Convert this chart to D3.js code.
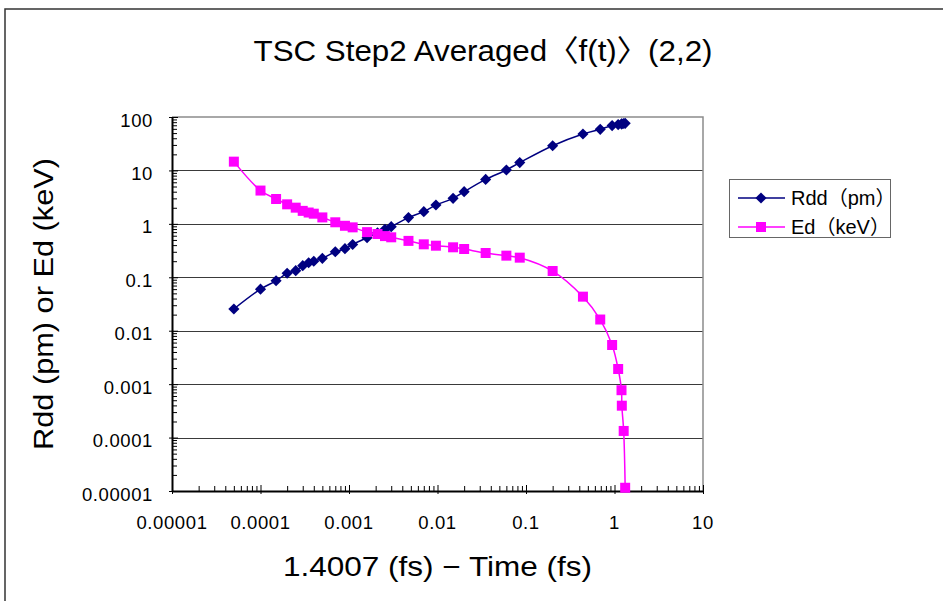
<!DOCTYPE html>
<html>
<head>
<meta charset="utf-8">
<script src="https://cdn.jsdelivr.net/npm/d3@7"></script>
<style>
  html, body { margin: 0; padding: 0; background: #fff; }
  svg { display: block; }
  text { font-family: "Liberation Sans", Arial, "Noto Sans CJK JP", sans-serif; fill: #000; }
</style>
</head>
<body>
<svg id="chart" width="943" height="601"></svg>
<script>
// ---- data ----
const chartTitle = "TSC Step2 Averaged〈f(t)〉(2,2)";
const xTitle = "1.4007 (fs) − Time (fs)";
const yTitle = "Rdd (pm) or Ed (keV)";
const seriesNames = ["Rdd（pm）", "Ed（keV）"];
const xTickLabels = ["0.00001", "0.0001", "0.001", "0.01", "0.1", "1", "10"];
const yTickLabels = ["0.00001", "0.0001", "0.001", "0.01", "0.1", "1", "10", "100"];

// 1.4007 (fs) - Time (fs)
const timeLeft = [5e-5, 1e-4, 1.5e-4, 2e-4, 2.5e-4, 3e-4, 3.5e-4, 4e-4, 5e-4, 7e-4, 9e-4,
  1.1e-3, 1.6e-3, 2.1e-3, 2.55e-3, 3.0e-3, 4.7e-3, 7.0e-3, 9.6e-3, 0.015, 0.02, 0.035,
  0.06, 0.085, 0.2, 0.44, 0.69, 0.94, 1.10, 1.20, 1.21, 1.27, 1.32];
// Rdd (pm)
const rdd = [0.0255, 0.060, 0.086, 0.119, 0.133, 0.165, 0.187, 0.20, 0.226, 0.30, 0.343,
  0.41, 0.55, 0.68, 0.79, 0.885, 1.31, 1.69, 2.25, 3.0, 4.0, 6.8,
  10.2, 14, 29, 48, 58.8, 69, 72, 74, 74.5, 75.5, 76];
// Ed (keV)
const ed = [14.6, 4.2, 2.92, 2.32, 2.01, 1.75, 1.63, 1.55, 1.32, 1.07, 0.92,
  0.86, 0.70, 0.645, 0.59, 0.56, 0.48, 0.414, 0.39, 0.364, 0.338, 0.285,
  0.254, 0.233, 0.131, 0.0434, 0.0162, 0.0054, 0.00192, 0.00077, 0.000395, 0.000133, 0.0000115];

// ---- layout ----
const svg = d3.select("#chart");
const plot = { left: 172, right: 703, top: 117, bottom: 491 };
const colors = { rdd: "#000080", ed: "#FF00FF" };

const x = d3.scaleLog().domain([1e-5, 10]).range([plot.left, plot.right]);
const y = d3.scaleLog().domain([1e-5, 100]).range([plot.bottom, plot.top]);

// outer chart border
svg.append("rect").attr("x", 5).attr("y", 9).attr("width", 960).attr("height", 620)
  .attr("fill", "none").attr("stroke", "#333").attr("stroke-width", 1.5);

// title
svg.append("text").attr("x", 483).attr("y", 61).attr("text-anchor", "middle")
  .attr("font-size", 30).attr("textLength", 459).attr("lengthAdjust", "spacingAndGlyphs")
  .text(chartTitle);

// gridlines (decades)
const yDecades = yTickLabels.map(Number);
svg.append("g").selectAll("line").data(yDecades.filter(v => v > 1e-5 && v < 100)).join("line")
  .attr("x1", plot.left).attr("x2", plot.right)
  .attr("y1", d => Math.round(y(d)) + 0.5).attr("y2", d => Math.round(y(d)) + 0.5)
  .attr("stroke", "#3a3a3a").attr("stroke-width", 1);

// plot border top & right (gray)
svg.append("path")
  .attr("d", `M${plot.left},${plot.top}H${plot.right}V${plot.bottom}`)
  .attr("fill", "none").attr("stroke", "#8c8c8c").attr("stroke-width", 1.5);

// minor ticks via scale ticks
const isDecade = v => Math.abs(Math.log10(v) - Math.round(Math.log10(v))) < 1e-9;
const xMinor = x.ticks().filter(v => !isDecade(v));
const yMinor = y.ticks().filter(v => !isDecade(v));
const xMajor = xTickLabels.map(Number);

// x axis
const gx = svg.append("g").attr("transform", `translate(0,${plot.bottom})`);
gx.call(d3.axisBottom(x).tickValues(xMinor).tickSize(-5).tickSizeOuter(0).tickFormat(""));
gx.append("g").call(d3.axisBottom(x).tickValues(xMajor).tickSize(3).tickSizeOuter(0).tickFormat(""))
  .call(g => g.select(".domain").remove())
  .selectAll(".tick line").attr("y1", -6);
gx.selectAll("line").attr("stroke", "#000").attr("stroke-width", 1);
gx.select(".domain").attr("stroke", "#000").attr("stroke-width", 2);

// y axis
const gy = svg.append("g").attr("transform", `translate(${plot.left},0)`);
gy.call(d3.axisLeft(y).tickValues(yMinor).tickSize(-5).tickSizeOuter(0).tickFormat(""));
gy.append("g").call(d3.axisLeft(y).tickValues(yDecades).tickSize(3).tickSizeOuter(0).tickFormat(""))
  .call(g => g.select(".domain").remove())
  .selectAll(".tick line").attr("x1", 6);
gy.selectAll("line").attr("stroke", "#000").attr("stroke-width", 1);
gy.select(".domain").attr("stroke", "#000").attr("stroke-width", 2);

// tick labels
svg.append("g").selectAll("text").data(xTickLabels).join("text")
  .attr("x", d => x(+d)).attr("y", 529).attr("text-anchor", "middle")
  .attr("font-size", 18.5).attr("letter-spacing", 0.6).text(d => d);
svg.append("g").selectAll("text").data(yTickLabels).join("text")
  .attr("x", 153).attr("y", d => y(+d) + 9.5).attr("text-anchor", "end")
  .attr("font-size", 18.5).attr("letter-spacing", 0.6).text(d => d);

// axis titles
svg.append("text").attr("x", (plot.left + plot.right) / 2).attr("y", 576)
  .attr("text-anchor", "middle").attr("font-size", 28)
  .attr("textLength", 309).attr("lengthAdjust", "spacingAndGlyphs").text(xTitle);
svg.append("text").attr("transform", `translate(53,${(158 + 450) / 2}) rotate(-90)`)
  .attr("text-anchor", "middle").attr("font-size", 27)
  .attr("textLength", 292).attr("lengthAdjust", "spacingAndGlyphs").text(yTitle);

// series
const line = d3.line().x(d => x(d[0])).y(d => y(d[1])).curve(d3.curveCatmullRom.alpha(0.5));
const rddPts = timeLeft.map((t, i) => [t, rdd[i]]);
const edPts = timeLeft.map((t, i) => [t, ed[i]]);

const diamond = d3.symbol(d3.symbolSquare, 62);
const square = d3.symbol(d3.symbolSquare, 100);

svg.append("path").attr("d", line(rddPts)).attr("fill", "none")
  .attr("stroke", colors.rdd).attr("stroke-width", 1.5);
svg.append("g").selectAll("path").data(rddPts).join("path")
  .attr("d", diamond).attr("fill", colors.rdd)
  .attr("transform", d => `translate(${x(d[0])},${y(d[1])}) rotate(45)`);

svg.append("path").attr("d", line(edPts)).attr("fill", "none")
  .attr("stroke", colors.ed).attr("stroke-width", 1.5);
svg.append("g").selectAll("path").data(edPts).join("path")
  .attr("d", square).attr("fill", colors.ed)
  .attr("transform", d => `translate(${x(d[0])},${y(d[1])})`);

// legend
const lg = svg.append("g");
lg.append("rect").attr("x", 729.5).attr("y", 179.5).attr("width", 161).attr("height", 58)
  .attr("fill", "#fff").attr("stroke", "#666").attr("stroke-width", 1);
const legendRows = [
  { name: seriesNames[0], color: colors.rdd, sym: diamond, rot: 45, cy: 198 },
  { name: seriesNames[1], color: colors.ed, sym: square, rot: 0, cy: 227 }
];
legendRows.forEach(r => {
  lg.append("line").attr("x1", 738).attr("x2", 785).attr("y1", r.cy).attr("y2", r.cy)
    .attr("stroke", r.color).attr("stroke-width", 1.5);
  lg.append("path").attr("d", r.sym).attr("fill", r.color)
    .attr("transform", `translate(761,${r.cy}) rotate(${r.rot})`);
  lg.append("text").attr("x", 791).attr("y", r.cy + 7).attr("font-size", 20).text(r.name);
});
</script>
</body>
</html>
